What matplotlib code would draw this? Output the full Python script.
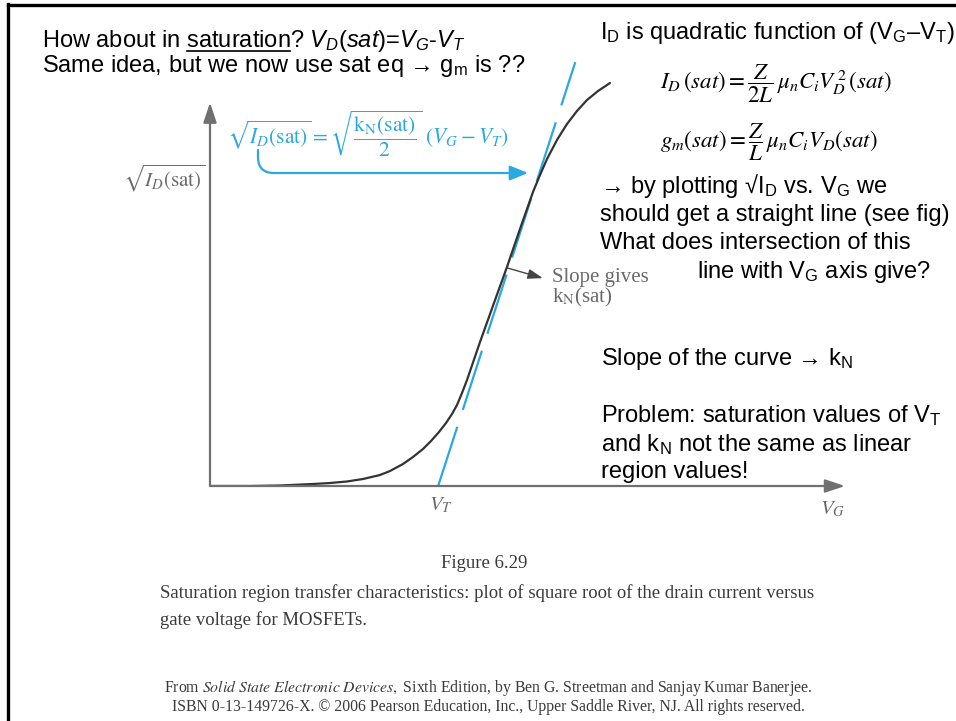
import matplotlib
matplotlib.use('Agg')
import matplotlib.pyplot as plt

plt.rcParams['font.family'] = 'Liberation Sans'
plt.rcParams['mathtext.fontset'] = 'custom'
plt.rcParams['mathtext.rm'] = 'Liberation Sans'
plt.rcParams['mathtext.it'] = 'Liberation Sans:italic'
plt.rcParams['mathtext.bf'] = 'Liberation Sans:bold'

# sqrt(I_D(sat)) against V_G, arbitrary units
vg = [0.000, 0.615, 1.077, 1.585, 1.846, 2.108, 2.354, 2.615, 2.769, 2.969,
      3.123, 3.277, 3.400, 3.523, 3.631, 3.723, 3.800, 3.877, 3.954, 4.154,
      4.369, 4.569, 4.769, 4.969, 5.077, 5.185, 5.338, 5.492, 5.646, 5.800,
      5.969, 6.154]
sqrt_id = [0.000, 0.000, 0.012, 0.047, 0.070, 0.106, 0.164, 0.258, 0.352, 0.516,
           0.681, 0.869, 1.056, 1.268, 1.479, 1.690, 1.901, 2.183, 2.488, 3.380,
           4.296, 5.141, 6.033, 6.901, 7.300, 7.676, 8.122, 8.498, 8.803, 9.061,
           9.272, 9.460]

# straight line fitted to the linear part, crosses the V_G axis at V_T
vt = 3.51
tangent_vg = [vt, 5.62]
tangent_sqrt_id = [0.0, 9.95]

# point on the curve where the slope label points
slope_pt = (4.57, 5.12)
slope_tip = (5.12, 4.88)

vg_axis_end = 9.77
id_axis_end = 9.0

blue = '#2aa8e0'
gray = '#6a6a6a'
curve_col = '#333333'

fig = plt.figure(figsize=(9.56, 7.21), dpi=100)

# whole-slide layer in pixel units for the text
page = fig.add_axes([0, 0, 1, 1])
page.set_xlim(0, 956)
page.set_ylim(721, 0)
page.axis('off')

ax = fig.add_axes([210 / 956, (721 - 486) / 721, 650 / 956, 426 / 721])
ax.set_xlim(0, 10)
ax.set_ylim(0, 10)
ax.axis('off')

# slide border (left and top)
page.plot([8, 8], [4, 721], color='black', lw=2.4, solid_capstyle='projecting')
page.plot([8, 956], [5, 5], color='black', lw=2.4, solid_capstyle='projecting')

renderer = fig.canvas.get_renderer()


def width_of(s, **kw):
    t = page.text(0, 0, s, **kw)
    w = t.get_window_extent(renderer).width
    t.remove()
    return w


sans = dict(fontsize=17, color='black', va='baseline')

line1 = r'How about in saturation? $V_D(sat)$=$V_G$-$V_T$'
page.text(42, 47, line1, **sans)
x_end = 42 + width_of('How about in saturation', **sans)
x_start = x_end - width_of('saturation', **sans)
page.plot([x_start, x_end], [51, 51], color='black', lw=1.2)
page.text(42, 72, r'Same idea, but we now use sat eq → g$_\mathrm{m}$ is ??', **sans)

page.text(600, 39, r'I$_\mathrm{D}$ is quadratic function of (V$_\mathrm{G}$–V$_\mathrm{T}$)', **sans)
page.text(600, 193, r'→ by plotting √I$_\mathrm{D}$ vs. V$_\mathrm{G}$ we', **sans)
page.text(600, 221, 'should get a straight line (see fig)', **sans)
page.text(600, 249, 'What does intersection of this', **sans)
page.text(697, 278, r'line with V$_\mathrm{G}$ axis give?', **sans)
page.text(601, 365, r'Slope of the curve → k$_\mathrm{N}$', **sans)
page.text(601, 422, r'Problem: saturation values of V$_\mathrm{T}$', **sans)
page.text(601, 451, r'and k$_\mathrm{N}$ not the same as linear', **sans)
page.text(601, 478, 'region values!', **sans)

eq = dict(fontsize=16.5, color='black', math_fontfamily='stix', va='center', ha='left')
page.text(660, 84, r'$I_D\,(sat) = \dfrac{Z}{2L}\,\mu_n C_i V_D^{\,2}\,(sat)$', **eq)
page.text(660, 142, r'$g_m(sat) = \dfrac{Z}{L}\,\mu_n C_i V_D(sat)$', **eq)

# figure labels
serif = dict(family='Liberation Serif', math_fontfamily='stix')
page.text(205, 187, r'$\sqrt{I_D(\mathrm{sat})}$', fontsize=15, color=gray,
          ha='right', va='baseline', **serif)
page.text(441, 510, r'$V_T$', fontsize=15, color=gray, ha='center', va='baseline', **serif)
page.text(833, 514, r'$V_G$', fontsize=15, color=gray, ha='center', va='baseline', **serif)
page.text(552, 282, 'Slope gives', fontsize=15, color=gray, va='baseline', **serif)
page.text(552, 302, r'k$_\mathrm{N}$(sat)', fontsize=15, color=gray, va='baseline', **serif)
page.text(227, 133, r'$\sqrt{I_D(\mathrm{sat})} = \sqrt{\dfrac{\mathrm{k_N(sat)}}{2}}\ (V_G - V_T)$',
          fontsize=15.5, color=blue, va='center', **serif)

page.annotate('', xy=(528, 173), xytext=(258, 150),
              arrowprops=dict(arrowstyle='-|>,head_length=1.1,head_width=0.45',
                              color=blue, lw=1.6, shrinkA=0, shrinkB=0,
                              connectionstyle='angle,angleA=90,angleB=0,rad=16'))

# caption and credit
cap = dict(family='Liberation Serif', math_fontfamily='stix', color='#3a3a3a', va='baseline')
page.text(484, 568, 'Figure 6.29', fontsize=13.5, ha='center', **cap)
page.text(160, 598, 'Saturation region transfer characteristics: plot of square root of the drain current versus',
          fontsize=13.5, **cap)
page.text(160, 625, 'gate voltage for MOSFETs.', fontsize=13.5, **cap)
page.text(488, 692, r'From $\mathit{Solid\ State\ Electronic\ Devices,}$ Sixth Edition, by Ben G. Streetman and Sanjay Kumar Banerjee.',
          fontsize=11.3, ha='center', **cap)
page.text(488, 711, 'ISBN 0-13-149726-X. © 2006 Pearson Education, Inc., Upper Saddle River, NJ. All rights reserved.',
          fontsize=11.3, ha='center', **cap)

# axes with arrow heads
ax.annotate('', xy=(vg_axis_end, 0), xytext=(0, 0),
            arrowprops=dict(arrowstyle='-|>,head_length=1.2,head_width=0.4',
                            color='#707070', lw=1.6, shrinkA=0, shrinkB=0))
ax.annotate('', xy=(0, id_axis_end), xytext=(0, 0),
            arrowprops=dict(arrowstyle='-|>,head_length=1.2,head_width=0.4',
                            color='#707070', lw=1.6, shrinkA=0, shrinkB=0))

ax.plot(tangent_vg, tangent_sqrt_id, color=blue, lw=1.6, dashes=(28, 8), solid_capstyle='butt')
ax.plot(vg, sqrt_id, color=curve_col, lw=1.6, solid_capstyle='round', solid_joinstyle='round')

ax.annotate('', xy=slope_tip, xytext=slope_pt,
            arrowprops=dict(arrowstyle='-|>,head_length=0.9,head_width=0.3',
                            color='#444444', lw=1.0, shrinkA=0, shrinkB=0))

fig.savefig('out.png', dpi=100)
